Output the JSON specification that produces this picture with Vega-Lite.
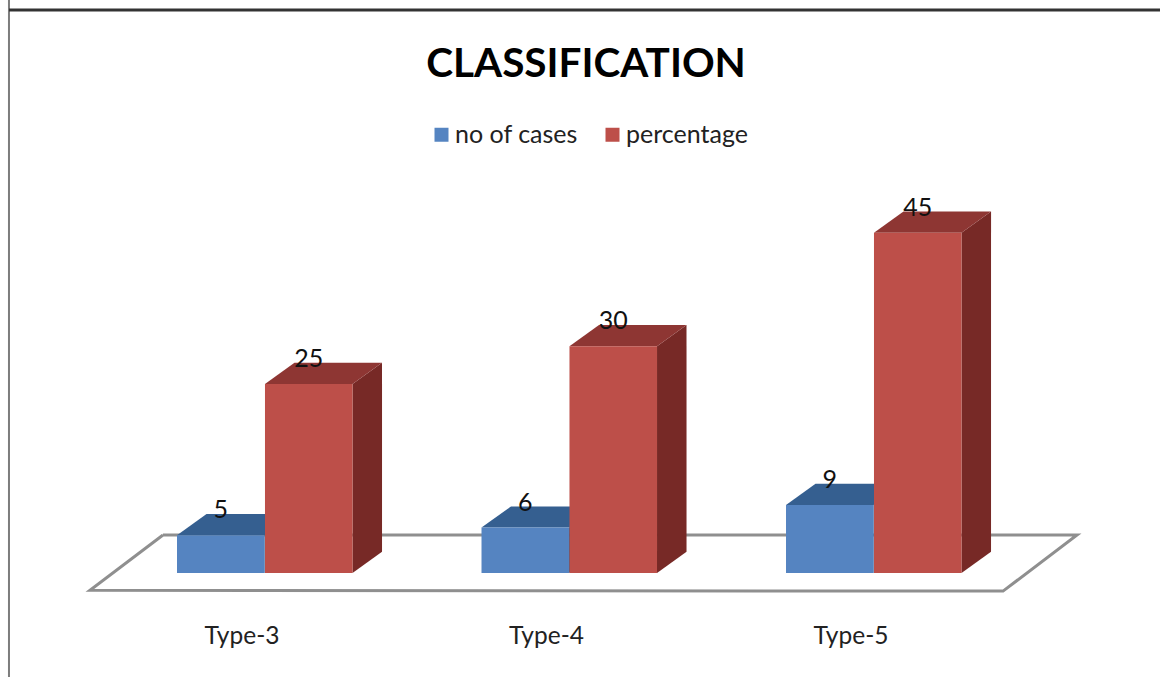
{
  "$schema": "https://vega.github.io/schema/vega-lite/v6.json",
  "width": 1160,
  "height": 677,
  "padding": 0,
  "autosize": {"type": "none"},
  "background": "#ffffff",
  "view": {"stroke": null},
  "title": {
    "text": "CLASSIFICATION",
    "font": "Lato",
    "fontSize": 40.5,
    "fontWeight": "bold",
    "color": "#000000",
    "anchor": "start",
    "frame": "group",
    "align": "center",
    "baseline": "alphabetic",
    "dx": 586,
    "offset": -118
  },
  "datasets": {
    "cases": [
      {"type": "Type-3", "series": "no of cases", "value": 5},
      {"type": "Type-3", "series": "percentage", "value": 25},
      {"type": "Type-4", "series": "no of cases", "value": 6},
      {"type": "Type-4", "series": "percentage", "value": 30},
      {"type": "Type-5", "series": "no of cases", "value": 9},
      {"type": "Type-5", "series": "percentage", "value": 45}
    ],
    "floorCorners": [
      {"corner": 0}, {"corner": 1}, {"corner": 2}, {"corner": 3}, {"corner": 4}
    ],
    "frameEdge": [{"edge": "frame"}]
  },
  "data": {"name": "cases"},
  "transform": [
    {"calculate": "indexof(['Type-3','Type-4','Type-5'], datum.type)", "as": "slot"},
    {"calculate": "datum.slot + (datum.series === 'no of cases' ? -0.2167 : 0.0722)", "as": "left"},
    {"calculate": "datum.left + 0.2875", "as": "right"},
    {"calculate": "[0, 1]", "as": "step"},
    {"flatten": ["step"]},
    {"calculate": "datum.type + datum.series", "as": "barKey"},
    {"calculate": "datum.step * 0.0969", "as": "shiftX"},
    {"calculate": "datum.step * 2.8", "as": "shiftY"},
    {"calculate": "datum.value + datum.shiftY", "as": "upper"},
    {"calculate": "datum.right + datum.shiftX", "as": "sideX"},
    {"calculate": "datum.left + datum.shiftX", "as": "topLeft"}
  ],
  "layer": [
    {
      "data": {"name": "frameEdge"},
      "transform": [],
      "mark": {"type": "rule", "color": "#7d7d7d", "strokeWidth": 2},
      "encoding": {
        "x": {
          "datum": -0.7685,
          "type": "quantitative",
          "scale": {"domain": [-0.798, 3.0115], "nice": false, "zero": false},
          "axis": {
            "values": [0, 1, 2],
            "orient": "bottom",
            "offset": -41,
            "domain": false,
            "ticks": false,
            "grid": false,
            "title": null,
            "labelExpr": "'Type-' + (datum.value + 3)",
            "labelFont": "Lato",
            "labelFontSize": 24.5,
            "labelColor": "#222222",
            "labelPadding": 0,
            "labelOffset": -1.5,
            "labelBaseline": "middle"
          }
        }
      }
    },
    {
      "data": {"name": "frameEdge"},
      "transform": [],
      "mark": {"type": "rule", "color": "#333333", "strokeWidth": 3},
      "encoding": {
        "x": {"datum": -0.7685, "type": "quantitative"},
        "x2": {"datum": 3.0115},
        "y": {"datum": 74.47, "type": "quantitative", "scale": {"domain": [-13.76, 75.79], "nice": false, "zero": false}, "axis": null}
      }
    },
    {
      "data": {"name": "floorCorners"},
      "transform": [
        {"calculate": "[-0.2627, 2.739, 2.496, -0.5025, -0.2627][datum.corner]", "as": "floorX"},
        {"calculate": "[5.03, 5.03, -2.4, -2.3, 5.03][datum.corner]", "as": "floorY"}
      ],
      "mark": {"type": "line", "color": "#8f8f8f", "strokeWidth": 3, "strokeJoin": "miter", "interpolate": "linear"},
      "encoding": {
        "x": {"field": "floorX", "type": "quantitative"},
        "y": {"field": "floorY", "type": "quantitative"},
        "order": {"field": "corner", "type": "ordinal"}
      }
    },
    {
      "mark": {"type": "area", "orient": "vertical", "interpolate": "linear"},
      "encoding": {
        "x": {"field": "sideX", "type": "quantitative"},
        "y": {"field": "upper", "type": "quantitative"},
        "y2": {"field": "shiftY"},
        "detail": {"field": "barKey"},
        "color": {
          "field": "series",
          "type": "nominal",
          "scale": {"domain": ["no of cases", "percentage"], "range": ["#2f5680", "#772926"]},
          "legend": null
        }
      }
    },
    {
      "mark": {"type": "area", "orient": "horizontal", "interpolate": "linear"},
      "encoding": {
        "y": {"field": "upper", "type": "quantitative"},
        "x": {"field": "topLeft", "type": "quantitative"},
        "x2": {"field": "sideX"},
        "detail": {"field": "barKey"},
        "color": {
          "field": "series",
          "type": "nominal",
          "scale": {"domain": ["no of cases", "percentage"], "range": ["#355f90", "#8e3633"]},
          "legend": null
        }
      }
    },
    {
      "transform": [{"filter": "datum.step === 0"}],
      "mark": {"type": "rect"},
      "encoding": {
        "x": {"field": "left", "type": "quantitative"},
        "x2": {"field": "right"},
        "y": {"field": "value", "type": "quantitative"},
        "y2": {"datum": 0},
        "color": {
          "field": "series",
          "type": "nominal",
          "scale": {"domain": ["no of cases", "percentage"], "range": ["#5584c1", "#bd4f49"]},
          "legend": {
            "title": null,
            "orient": "none",
            "legendX": 429,
            "legendY": 122,
            "direction": "horizontal",
            "symbolType": "square",
            "symbolSize": 196,
            "symbolStrokeWidth": 0,
            "labelFont": "Lato",
            "labelFontSize": 25,
            "labelColor": "#222222",
            "labelOffset": 1,
            "columnPadding": 22,
            "symbolOpacity": 1
          }
        }
      }
    },
    {
      "transform": [{"filter": "datum.step === 0"}, {"calculate": "(datum.left + datum.right) / 2", "as": "middle"}],
      "mark": {"type": "text", "font": "Lato", "fontSize": 25, "color": "#111111", "dy": -25, "baseline": "middle", "align": "center"},
      "encoding": {
        "x": {"field": "middle", "type": "quantitative"},
        "y": {"field": "value", "type": "quantitative"},
        "text": {"field": "value", "type": "quantitative"}
      }
    }
  ],
  "resolve": {"scale": {"color": "independent"}}
}
